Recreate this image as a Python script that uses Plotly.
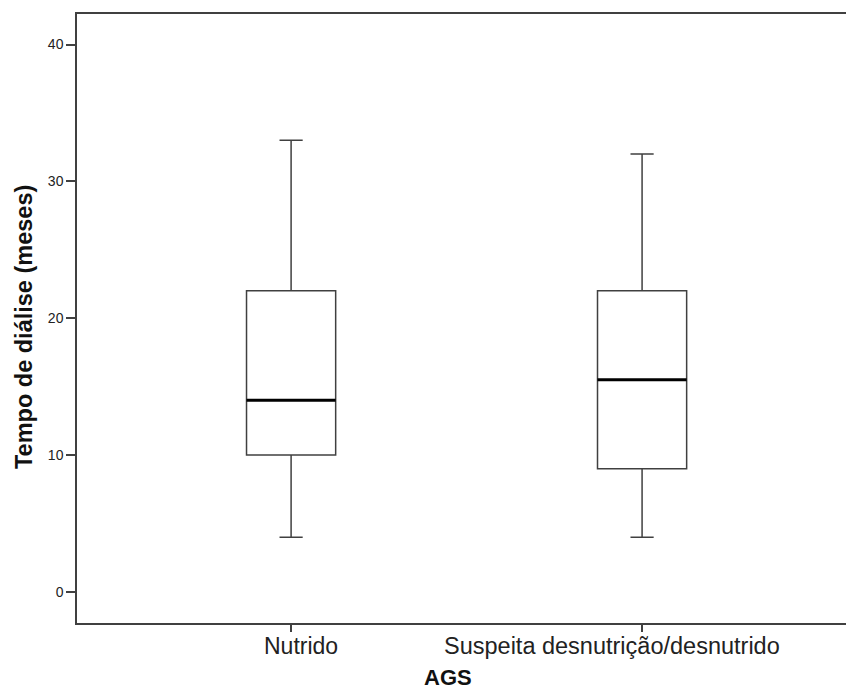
import plotly.graph_objects as go

categories = ["Nutrido", "Suspeita desnutrição/desnutrido"]
q1 = [10, 9]
median = [14, 15.5]
q3 = [22, 22]
lower = [4, 4]
upper = [33, 32]
y_ticks = [0, 10, 20, 30, 40]

W, H = 846, 693
L, R, T, B = 77, 0, 14, 70
pw = W - L - R
ph = H - T - B

fig = go.Figure()
for i, c in enumerate(categories):
    fig.add_trace(go.Box(
        x=[c], q1=[q1[i]], median=[median[i]], q3=[q3[i]],
        lowerfence=[lower[i]], upperfence=[upper[i]],
        width=0.254, whiskerwidth=0.26,
        fillcolor="white", line=dict(color="#404040", width=1.5),
        boxpoints=False, showlegend=False, hoverinfo="skip",
    ))
    # thick median line
    fig.add_trace(go.Box(
        x=[c], q1=[median[i]], median=[median[i]], q3=[median[i]],
        lowerfence=[median[i]], upperfence=[median[i]],
        width=0.254, whiskerwidth=0.0,
        fillcolor="black", line=dict(color="black", width=3),
        boxpoints=False, showlegend=False, hoverinfo="skip",
    ))

fig.update_layout(
    width=W, height=H,
    margin=dict(l=L, r=R, t=T, b=B, pad=0),
    plot_bgcolor="white", paper_bgcolor="white",
    boxmode="overlay",
    font=dict(family="Liberation Sans, Arial", color="#222"),
)
fig.update_xaxes(
    type="category", categoryorder="array", categoryarray=categories,
    range=[-0.61, 1.581],
    showline=True, linecolor="#404040", linewidth=1.5, mirror=True,
    ticks="outside", ticklen=7, tickcolor="#404040", tickwidth=1.5,
    showticklabels=False, showgrid=False, zeroline=False,
)
fig.update_yaxes(
    range=[-2.27, 42.23], tickvals=y_ticks,
    showline=True, linecolor="#404040", linewidth=1.5, mirror=False,
    ticks="outside", ticklen=9, tickcolor="#404040", tickwidth=1.5,
    tickfont=dict(size=14, color="#222"),
    showgrid=False, zeroline=False,
)

label_sizes = [23, 23.5]
shifts = [10, -30]
for c, s, fs in zip(categories, shifts, label_sizes):
    fig.add_annotation(x=c, xref="x", y=0, yref="paper", yanchor="top",
                       yshift=-8, xshift=s, text=c, showarrow=False,
                       font=dict(size=fs, color="#222"))

fig.add_annotation(x=(448 - L) / pw, xref="paper", y=-(677 - (T + ph)) / ph, yref="paper",
                   text="<b>AGS</b>", showarrow=False, xanchor="center", yanchor="middle",
                   font=dict(size=22, color="#111"))
fig.add_annotation(x=(24 - L) / pw, xref="paper", y=(T + ph - 327) / ph, yref="paper",
                   text="<b>Tempo de diálise (meses)</b>", textangle=-90, showarrow=False,
                   xanchor="center", yanchor="middle",
                   font=dict(size=23.5, color="#111"))

fig.write_html(
    "out.html",
    config={"displayModeBar": False},
    post_script="document.body.style.margin='0';document.body.style.overflow='hidden';",
)
